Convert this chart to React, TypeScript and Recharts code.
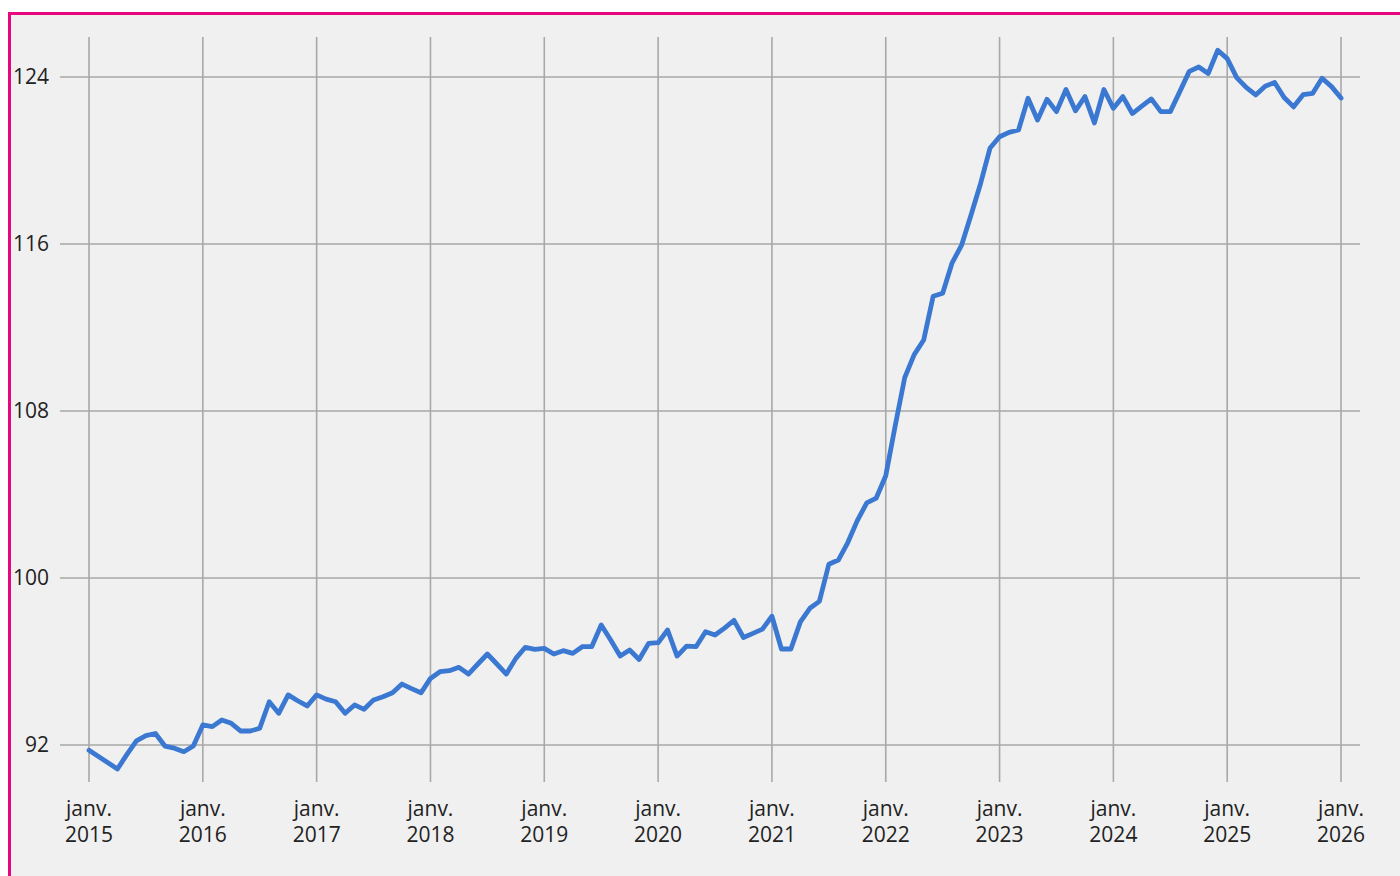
import React from "react";
import { LineChart, Line, XAxis, YAxis, CartesianGrid } from "recharts";

// Monthly index values, Jan 2015 (index 0) .. Jan 2026 (index 132)
const values2015 = [91.75, 91.45, 91.15, 90.85, 91.55, 92.2, 92.45, 92.55, 91.95, 91.85, 91.68, 91.95];
const values2016 = [92.96, 92.88, 93.2, 93.04, 92.67, 92.67, 92.8, 94.07, 93.52, 94.4, 94.12, 93.87];
const values2017 = [94.4, 94.2, 94.07, 93.52, 93.92, 93.71, 94.16, 94.31, 94.5, 94.92, 94.7, 94.5];
const values2018 = [95.19, 95.51, 95.56, 95.72, 95.4, 95.88, 96.36, 95.88, 95.4, 96.15, 96.68, 96.58];
const values2019 = [96.63, 96.36, 96.52, 96.39, 96.71, 96.71, 97.75, 97.03, 96.26, 96.55, 96.1, 96.87];
const values2020 = [96.9, 97.51, 96.26, 96.74, 96.71, 97.43, 97.27, 97.6, 97.97, 97.15, 97.35, 97.55];
const values2021 = [98.17, 96.6, 96.6, 97.9, 98.55, 98.88, 100.66, 100.86, 101.7, 102.75, 103.6, 103.83];
const values2022 = [104.9, 107.3, 109.6, 110.7, 111.4, 113.5, 113.64, 115.1, 115.95, 117.4, 118.9, 120.6];
const values2023 = [121.14, 121.35, 121.46, 122.98, 121.94, 122.93, 122.34, 123.4, 122.38, 123.06, 121.8, 123.4];
const values2024 = [122.5, 123.06, 122.25, 122.6, 122.95, 122.34, 122.34, 123.3, 124.27, 124.48, 124.17, 125.28];
const values2025 = [124.88, 123.97, 123.5, 123.14, 123.56, 123.74, 123.02, 122.57, 123.15, 123.21, 123.94, 123.54];
const values2026 = [122.99];

const allValues = [
  ...values2015, ...values2016, ...values2017, ...values2018, ...values2019, ...values2020,
  ...values2021, ...values2022, ...values2023, ...values2024, ...values2025, ...values2026,
];

const years = ["2015", "2016", "2017", "2018", "2019", "2020", "2021", "2022", "2023", "2024", "2025", "2026"];
const monthLabel = "janv.";
const yTicks = [92, 100, 108, 116, 124];

const data = allValues.map((v, i) => ({ m: i, v }));
const xTicks = years.map((_, i) => i * 12);

const FONT = "'Open Sans', 'Noto Sans', sans-serif";

const XTick = (props: any) => {
  const { x, y, payload } = props;
  const idx = Math.round(payload.value / 12);
  return (
    <text x={x} y={y} textAnchor="middle" fill="#222" fontFamily={FONT} fontSize={21}>
      <tspan x={x} dy={26}>{monthLabel}</tspan>
      <tspan x={x} dy={26}>{years[idx]}</tspan>
    </text>
  );
};

export default function App() {
  return (
    <div style={{ position: "fixed", left: 0, top: 0, width: 1400, height: 876, overflow: "hidden", background: "#fff" }}>
      <div
        style={{
          position: "absolute",
          left: 8,
          top: 12,
          width: 1440,
          height: 920,
          border: "3px solid #e8067f",
          background: "#f0f0f0",
          boxSizing: "border-box",
        }}
      />
      <div style={{ position: "absolute", left: 0, top: 0 }}>
        <LineChart width={1400} height={876} data={data} margin={{ top: 37, right: 40, bottom: 34, left: 0 }}>
          <CartesianGrid
            stroke="#a8a8a8"
            strokeWidth={1.6}
            horizontalValues={yTicks}
            verticalValues={xTicks}
          />
          <XAxis
            dataKey="m"
            type="number"
            domain={[-3.058, 134.0]}
            ticks={xTicks}
            interval={0}
            tickLine={false}
            axisLine={false}
            height={60}
            tick={<XTick />}
            allowDataOverflow
          />
          <YAxis
            type="number"
            domain={[90.228, 125.916]}
            ticks={yTicks}
            interval={0}
            width={60}
            tickLine={false}
            axisLine={false}
            tickSize={6}
            tickMargin={5}
            allowDataOverflow
            tick={{ fill: "#222", fontSize: 21, fontFamily: FONT }}
          />
          <Line
            type="linear"
            dataKey="v"
            stroke="#3b78d1"
            strokeWidth={4.8}
            dot={false}
            isAnimationActive={false}
            strokeLinejoin="round"
            strokeLinecap="round"
          />
        </LineChart>
      </div>
    </div>
  );
}
